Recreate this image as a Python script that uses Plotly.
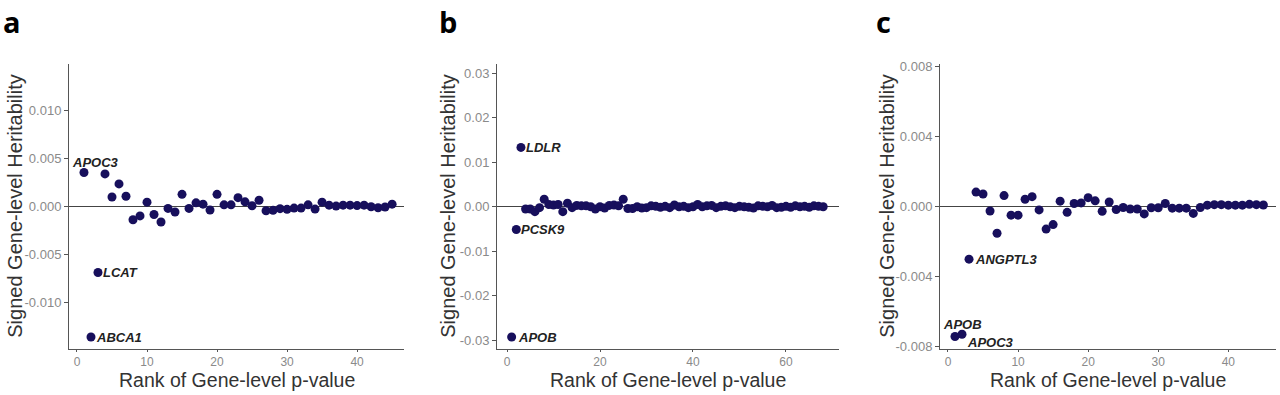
import plotly.graph_objects as go

# ---------------- data ----------------
a_rank = list(range(1, 46))
a_h2 = [0.00356, -0.01355, -0.00684, 0.00342, 0.00102, 0.00238, 0.00109, -0.00135, -0.00095, 0.00048,
        -0.00081, -0.00159, -0.00017, -0.00054, 0.00129, -0.00017, 0.00041, 0.00027, -0.00034, 0.00129,
        0.00020, 0.00020, 0.00095, 0.00051, 0.00010, 0.00068, -0.00041, -0.00037, -0.00020, -0.00027,
        -0.00014, -0.00014, 0.00020, -0.00024, 0.00048, 0.00017, 0.00007, 0.00017, 0.00017, 0.00012,
        0.00017, 0.00000, -0.00010, -0.00003, 0.00027]
a_genes = {1: "APOC3", 3: "LCAT", 2: "ABCA1"}

b_rank = list(range(1, 69))
b_h2 = [-0.0293, -0.00512, 0.01334, -0.0005, -0.0005, -0.0011, -0.0002, 0.0017, 0.0005, 0.0004,
        0.0005, -0.0011, 0.0008, -0.0002, 0.0003, 0.0002, 0.0002, 0.0000, -0.0005, 0.0000,
        -0.0003, 0.0003, 0.0004, 0.0002, 0.0017, -0.0004, -0.0004, 0.0000, -0.0003, -0.0002,
        0.0002, 0.0001, -0.0001, 0.0001, -0.0002, 0.0004, 0.0000, 0.0001, -0.0002, 0.0000,
        0.0005, 0.0000, 0.0002, 0.0003, -0.0002, 0.0001, 0.0002, 0.0000, -0.0002, 0.0001,
        0.0000, -0.0001, -0.0003, 0.0002, 0.0001, 0.0000, 0.0003, -0.0002, -0.0001, 0.0001,
        -0.0001, 0.0002, 0.0000, 0.0001, -0.0001, 0.0002, 0.0001, 0.0000]
b_genes = {3: "LDLR", 2: "PCSK9", 1: "APOB"}

c_rank = list(range(1, 46))
c_h2 = [-0.00745, -0.00732, -0.00302, 0.00082, 0.00071, -0.00026, -0.00154, 0.00062, -0.00050, -0.00050,
        0.00041, 0.00056, -0.00020, -0.00130, -0.00104, 0.00030, -0.00034, 0.00017, 0.00020, 0.00050,
        0.00032, -0.00028, 0.00025, -0.00018, -0.00006, -0.00015, -0.00015, -0.00043, -0.00008, -0.00008,
        0.00017, -0.00010, -0.00010, -0.00010, -0.00040, -0.00006, 0.00007, 0.00010, 0.00010, 0.00007,
        0.00007, 0.00007, 0.00012, 0.00010, 0.00008]
c_genes = {3: "ANGPTL3", 1: "APOB", 2: "APOC3"}

a_yticks = [-0.010, -0.005, 0.0, 0.005, 0.010]
a_yticktext = ["-0.010", "-0.005", "0.000", "0.005", "0.010"]
b_yticks = [-0.03, -0.02, -0.01, 0.0, 0.01, 0.02, 0.03]
b_yticktext = ["-0.03", "-0.02", "-0.01", "0.00", "0.01", "0.02", "0.03"]
c_yticks = [-0.008, -0.004, 0.0, 0.004, 0.008]
c_yticktext = ["-0.008", "-0.004", "0.000", "0.004", "0.008"]
a_xticks = [0, 10, 20, 30, 40]
b_xticks = [0, 20, 40, 60]
c_xticks = [0, 10, 20, 30, 40]

panel_letters = ["a", "b", "c"]
x_title = "Rank of Gene-level p-value"
y_title = "Signed Gene-level Heritability"

# ---------------- styling ----------------
W, H = 1280, 395
PT_COLOR = "#170f5c"
FONT = "Liberation Sans, Arial, sans-serif"
TICK_COLOR = "#8a8a8a"
LINE_COLOR = "#555555"
TITLE_COLOR = "#333333"

# plot area pixel boxes: (left, right) ; common top/bottom
boxes = [(69, 404), (497, 839), (940, 1276)]
top_px, bot_px = 61, 353
ydom = [(H - bot_px) / H, (H - top_px) / H]

xranges = [[-1.14, 46.7], [-2.15, 71.4], [-1.14, 46.8]]
yranges = [[-0.0148, 0.0148], [-0.032, 0.032], [-0.00817, 0.00813]]

fig = go.Figure()

panels = [
    (a_rank, a_h2, a_genes, a_yticks, a_yticktext, a_xticks),
    (b_rank, b_h2, b_genes, b_yticks, b_yticktext, b_xticks),
    (c_rank, c_h2, c_genes, c_yticks, c_yticktext, c_xticks),
]

# label offsets (pixels) : (xanchor, xshift, yshift, use_arrow, ax, ay)
label_style = {
    ("a", "APOC3"): ("center", 12, 10, False, 0, 0),
    ("a", "LCAT"): ("left", 3, 0, False, 0, 0),
    ("a", "ABCA1"): ("left", 3, 0, False, 0, 0),
    ("b", "LDLR"): ("left", 3, 0, False, 0, 0),
    ("b", "PCSK9"): ("left", 3, 0, False, 0, 0),
    ("b", "APOB"): ("left", 4, 0, False, 0, 0),
    ("c", "ANGPTL3"): ("left", 4, 0, False, 0, 0),
    ("c", "APOB"): ("center", 7, 12, False, 0, 0),
    ("c", "APOC3"): ("center", 0, 0, True, 28, 8),
}

annotations = []
for i, (rank, h2, genes, ytv, ytt, xtv) in enumerate(panels):
    k = "" if i == 0 else str(i + 1)
    xa, ya = "x" + k, "y" + k
    fig.add_trace(go.Scatter(
        x=rank, y=h2, mode="markers", xaxis=xa, yaxis=ya,
        marker=dict(color=PT_COLOR, size=9, line=dict(width=0)),
        showlegend=False, hoverinfo="x+y"))
    l, r = boxes[i]
    fig.layout["xaxis" + k] = dict(
        domain=[l / W, r / W], anchor=ya, range=xranges[i],
        showgrid=False, zeroline=False, showline=True, linecolor=LINE_COLOR, linewidth=1,
        ticks="outside", ticklen=2, tickcolor=LINE_COLOR, tickwidth=1,
        tickvals=xtv, ticktext=[str(v) for v in xtv],
        tickfont=dict(family=FONT, size=12, color=TICK_COLOR))
    fig.layout["yaxis" + k] = dict(
        domain=ydom, anchor=xa, range=yranges[i],
        showgrid=False, zeroline=True, zerolinecolor="#444444", zerolinewidth=1,
        showline=True, linecolor=LINE_COLOR, linewidth=1,
        ticks="outside", ticklen=4, tickcolor=LINE_COLOR, tickwidth=1,
        tickvals=ytv, ticktext=ytt,
        tickfont=dict(family=FONT, size=13, color=TICK_COLOR))
    letter = panel_letters[i]
    for rk, name in genes.items():
        xanchor, xs, ys, arrow, ax, ay = label_style[(letter, name)]
        ann = dict(x=rk, y=h2[rk - 1], xref=xa, yref=ya, text="<b><i>" + name + "</i></b>",
                   font=dict(family=FONT, size=13, color="#222222"))
        if arrow:
            ann.update(showarrow=True, ax=ax, ay=ay, axref="pixel", ayref="pixel",
                       arrowhead=0, arrowwidth=0.8, arrowcolor="#333333", standoff=3,
                       xanchor="center", yanchor="middle")
        else:
            ann.update(showarrow=False, xanchor=xanchor, yanchor="middle", xshift=xs, yshift=ys)
        annotations.append(ann)
    # axis titles
    annotations.append(dict(x=(l + r) / 2 / W, y=(H - 384.5) / H, xref="paper", yref="paper",
                            text=x_title, showarrow=False, xanchor="center", yanchor="middle",
                            font=dict(family=FONT, size=19.5, color=TITLE_COLOR)))
    ytitle_x = [15, 448, 887][i]
    annotations.append(dict(x=ytitle_x / W, y=(H - (top_px + bot_px) / 2) / H, xref="paper", yref="paper",
                            text=y_title, showarrow=False, textangle=-90, xanchor="center", yanchor="middle",
                            font=dict(family=FONT, size=20, color=TITLE_COLOR)))
    # panel letter
    letter_x = [1, 437, 874][i]
    annotations.append(dict(x=letter_x / W, y=(H - 17) / H, xref="paper", yref="paper",
                            text="<b>" + letter + "</b>", showarrow=False, xanchor="left", yanchor="middle",
                            font=dict(family="Open Sans, sans-serif", size=29, color="#000000")))

fig.update_layout(width=W, height=H, margin=dict(l=0, r=0, t=0, b=0),
                  paper_bgcolor="white", plot_bgcolor="white", annotations=annotations,
                  showlegend=False)

fig.write_html("out.html", config={"displayModeBar": False},
               post_script="document.body.style.margin='0';document.body.style.overflow='hidden';")
